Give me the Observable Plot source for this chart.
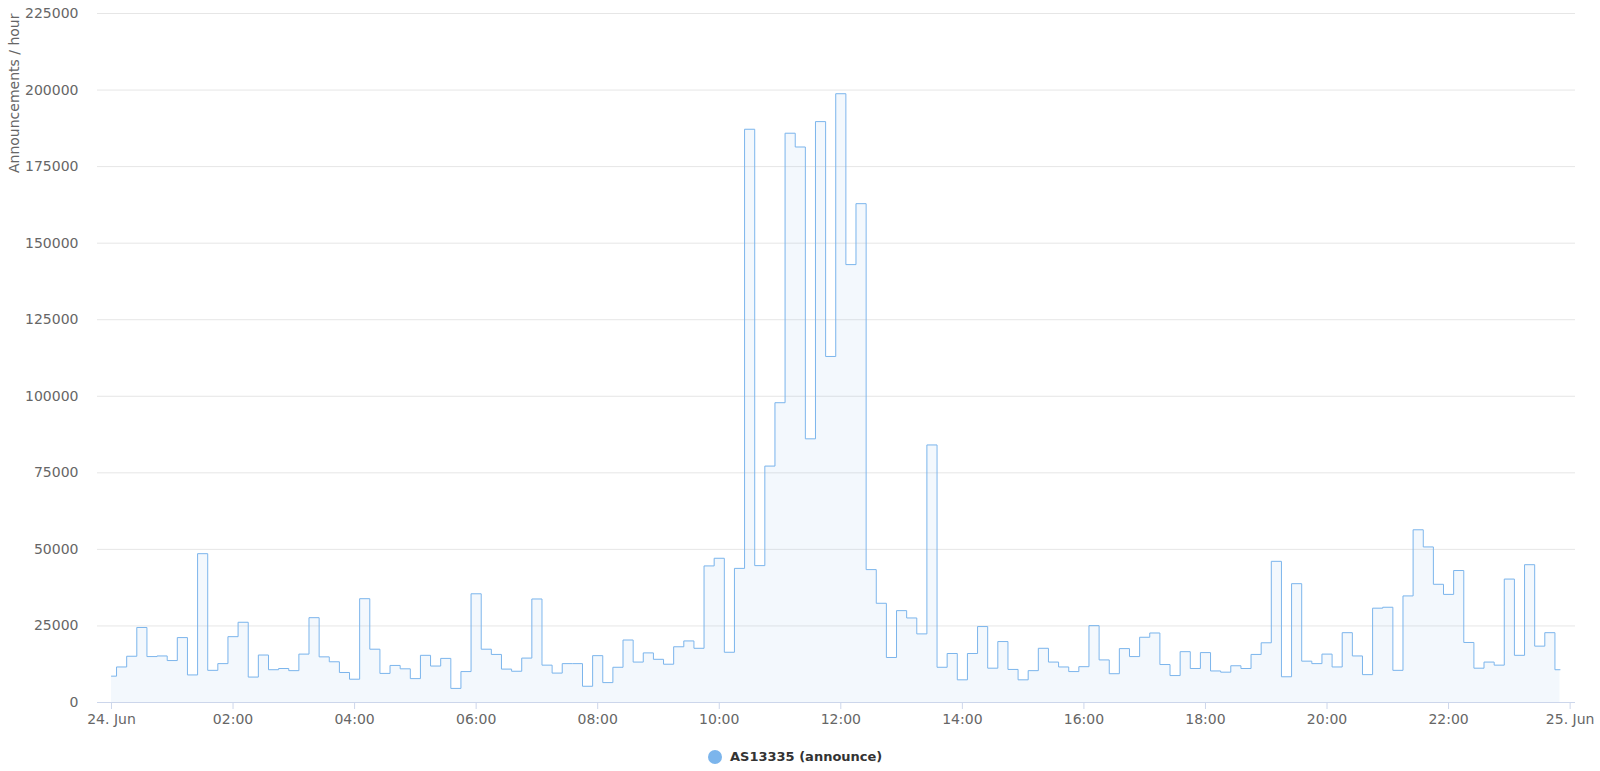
<!DOCTYPE html>
<html>
<head>
<meta charset="utf-8">
<script src="https://cdn.jsdelivr.net/npm/d3@7"></script>
<script src="https://cdn.jsdelivr.net/npm/@observablehq/plot@0.6"></script>
<style>
  html, body { margin: 0; padding: 0; background: #ffffff; }
  body { font-family: "DejaVu Sans", "Lucida Grande", sans-serif; }
  #chart { position: relative; width: 1600px; height: 771px; overflow: hidden; }
  #legend { position: absolute; left: 0; top: 735px; width: 1600px; height: 36px; }
  #legend .dot { position: absolute; left: 707.5px; top: 14.7px; width: 14px; height: 14px; border-radius: 50%; background: #7cb5ec; }
  #legend .lbl { position: absolute; left: 730px; top: 13.5px; line-height: 16px; font-size: 13px; font-weight: bold; color: #333333; white-space: nowrap; }
</style>
</head>
<body>
<div id="chart"><div id="legend"></div></div>
<script>
// ---- data ----
const seriesName = "AS13335 (announce)";
const yTitle = "Announcements / hour";
const startUTC = Date.UTC(2016, 5, 24, 0, 0);   // 24 Jun 00:00
const stepMinutes = 10;
// announcements per hour, one value every 10 minutes (00:00 .. 23:50)
const announce = [
  8600, 11600, 15100, 24500, 15000, 15200,      // 00h
  13700, 21200, 9000, 48600, 10500, 12700,      // 01h
  21500, 26200, 8300, 15500, 10700, 11100,      // 02h
  10400, 15800, 27700, 14900, 13300, 9800,      // 03h
  7600, 33900, 17400, 9500, 12100, 11000,       // 04h
  7800, 15400, 11900, 14400, 4600, 10100,       // 05h
  35500, 17400, 15700, 10900, 10200, 14500,     // 06h
  33800, 12200, 9600, 12700, 12700, 5300,       // 07h
  15300, 6500, 11500, 20400, 13200, 16200,      // 08h
  14100, 12500, 18200, 20100, 17700, 44600,     // 09h
  47100, 16400, 43800, 187200, 44700, 77200,    // 10h
  97900, 185900, 181400, 86100, 189700, 113000, // 11h
  198800, 143000, 162900, 43400, 32400, 14700,  // 12h
  30000, 27600, 22400, 84100, 11500, 16000,     // 13h
  7400, 16000, 24800, 11200, 19900, 10800,      // 14h
  7400, 10400, 17700, 13200, 11600, 10100,      // 15h
  11700, 25100, 13900, 9400, 17600, 15000,      // 16h
  21300, 22700, 12400, 8800, 16600, 11100,      // 17h
  16300, 10300, 9900, 12000, 11100, 15700,      // 18h
  19500, 46100, 8400, 38800, 13500, 12700,      // 19h
  15800, 11600, 22800, 15200, 9100, 30800,      // 20h
  31100, 10500, 34800, 56400, 50800, 38600,     // 21h
  35300, 43100, 19600, 11200, 13200, 12200,     // 22h
  40300, 15400, 45000, 18400, 22800, 10700      // 23h
];
const yTicks = [0, 25000, 50000, 75000, 100000, 125000, 150000, 175000, 200000, 225000];
const xTickHours = [0, 2, 4, 6, 8, 10, 12, 14, 16, 18, 20, 22, 24];
const xTickLabels = ["24. Jun", "02:00", "04:00", "06:00", "08:00", "10:00", "12:00",
                     "14:00", "16:00", "18:00", "20:00", "22:00", "25. Jun"];

// ---- build ----
const MIN = 60000;
const data = announce.map((v, i) => ({ t: new Date(startUTC + i * stepMinutes * MIN), v }));
const xTicks = xTickHours.map(h => new Date(startUTC + h * 60 * MIN));
const labelOf = d => xTickLabels[xTicks.findIndex(t => +t === +d)];

const plot = Plot.plot({
  width: 1600,
  height: 735,
  marginLeft: 97,
  marginRight: 25,
  marginTop: 13,
  marginBottom: 33,
  style: { fontFamily: "DejaVu Sans, sans-serif", fontSize: "14px", color: "#666666", background: "#ffffff", overflow: "visible" },
  x: { type: "utc", domain: [new Date(startUTC - 13.8 * MIN), new Date(startUTC + 1445.3 * MIN)] },
  y: { domain: [0, 225000] },
  marks: [
    Plot.gridY(yTicks.filter(d => d > 0), { stroke: "#e6e6e6", strokeOpacity: 1, strokeWidth: 1 }),
    Plot.areaY(data, { x: "t", y: "v", curve: "step", fill: "#7cb5ec", fillOpacity: 0.09 }),
    Plot.lineY(data, { x: "t", y: "v", curve: "step", stroke: "#7cb5ec", strokeWidth: 1 }),
    Plot.ruleY([0], { stroke: "#ccd6eb", strokeWidth: 1 }),
    Plot.axisY(yTicks, { tickSize: 0, tickPadding: 19, label: null, tickFormat: d => String(d), fill: "#666666", fontSize: 14 }),
    Plot.axisX(xTicks, { tickSize: 7, tickPadding: 5, label: null, stroke: "#ccd6eb", tickFormat: labelOf, fill: "#666666", fontSize: 14 }),
    Plot.text([yTitle], { frameAnchor: "top-left", dx: -88, text: d => d, rotate: -90, textAnchor: "end", fill: "#666666", fontSize: 14 })
  ]
});
document.getElementById("chart").prepend(plot);

const legend = document.getElementById("legend");
const dot = document.createElement("span"); dot.className = "dot";
const lbl = document.createElement("span"); lbl.className = "lbl"; lbl.textContent = seriesName;
legend.append(dot, lbl);
</script>
</body>
</html>
